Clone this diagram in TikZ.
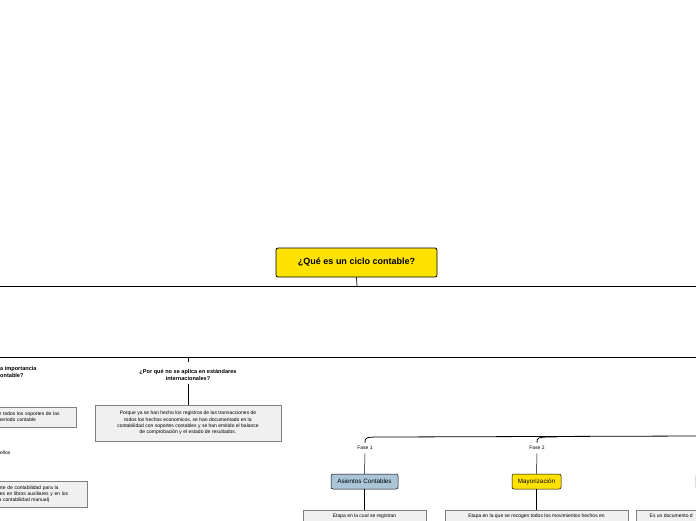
\documentclass[tikz,border=0pt]{standalone}
\usepackage{fontspec}
\setmainfont{Liberation Sans}
\usetikzlibrary{positioning}
\definecolor{asiblue}{RGB}{170,196,216}
\definecolor{topyel}{RGB}{255,226,0}
\tikzset{
  topic/.style={draw, rounded corners=2pt, line width=0.8pt, font=\fontsize{9}{10}\selectfont\bfseries, inner sep=4pt},
  sub/.style={draw, rounded corners=2pt, line width=0.5pt, font=\fontsize{6.3}{7}\selectfont, inner sep=3pt},
  note/.style={draw=gray, fill=gray!12, font=\fontsize{5}{6.4}\selectfont, align=center, inner sep=2.5pt},
  ask/.style={font=\fontsize{5.6}{7.2}\selectfont\bfseries, align=center},
  lbl/.style={font=\fontsize{5}{6}\selectfont},
  link/.style={line width=0.5pt}
}
\begin{document}
\begin{tikzpicture}[x=1pt, y=-1pt]
	\useasboundingbox (0,0) rectangle (696,520);
	\clip (0,0) rectangle (696,520);
	
	% root
	\node[topic, fill=topyel, minimum width=161pt, minimum height=29pt] (root) at (356.5,262.5) {¿Qué es un ciclo contable?};
	\coordinate (rb) at (357,286);
	\draw[line width=0.7pt] (root.south) -- (rb);
	\draw[line width=0.7pt] (0,286) -- (696,286);
	\draw[line width=0.9pt] (0,357) -- (696,357);
	
	% left questions
	\node[ask, anchor=north west, align=left, inner sep=0pt] (imp) at (0,366) {a importancia\\ontable?};
	\node[note, anchor=north west, align=left, minimum height=20pt, text width=75pt] (sop) at (-4,407) {e todos los soportes de las\\ periodo contable};
	\node[lbl, anchor=west, inner sep=0pt] (ell) at (0,453) {ellos};
	\node[note, anchor=north west, align=left, minimum height=26pt, text width=86pt] (aux) at (-4,481) {nte de contabilidad para la\\les en libros auxiliares y en los\\a contabilidad manual)};
	
	% por que
	\coordinate (pq) at (188,357);
	\node[ask] (por) at (188,375) {¿Por qué no se aplica en estándares\\internacionales?};
	\node[note, minimum width=186pt, minimum height=36pt] (porq) at (188,423) {Porque ya se han hecho los registros de las transacciones de\\todos los hechos economicos, se han documentado en la\\contabilidad con soportes contables y se han emitido el balance\\de comprobación y el estado de resultados.};
	\draw[link] (pq) -- ++(0,5);
	\draw[link] (por.south) -- (porq.north);
	
	% fases
	\coordinate (fe) at (696,436);
	\node[lbl] (f1) at (365,448) {Fase 1};
	\node[lbl] (f2) at (537,448) {Fase 2};
	\draw[line width=0.8pt] (f1.north) .. controls (365,437) .. (385,437) -- (fe);
	\draw[line width=0.8pt] (f2.north) .. controls (537,437) .. (557,437);
	
	\node[sub, fill=asiblue, minimum width=67pt, minimum height=15pt] (asi) at (364.5,481.5) {Asientos Contables};
	\node[sub, fill=topyel, minimum width=49pt, minimum height=15pt] (may) at (536.5,481.5) {Mayorización};
	\node[sub, fill=gray!15, minimum width=12pt, minimum height=15pt] (tres) at (702,481.5) {};
	\draw[link] (f1.south) -- (asi.north);
	\draw[link] (f2.south) -- (may.north);
	
	\node[note, anchor=north, minimum width=123pt, minimum height=20pt] (asit) at (364.5,510) {Etapa en la cual se registran\\ \strut};
	\node[note, anchor=north, minimum width=183pt, minimum height=20pt] (mayt) at (536.5,510) {Etapa en la que se recogen todos los movimientos hechos en\\ \strut};
	\node[note, anchor=north west, align=left, minimum width=70pt, minimum height=20pt] (trest) at (636,510) {Es un documento d\\ \strut};
	\draw[link] (asi.south) -- (asit.north);
	\draw[link] (may.south) -- (mayt.north);
\end{tikzpicture}
\end{document}
